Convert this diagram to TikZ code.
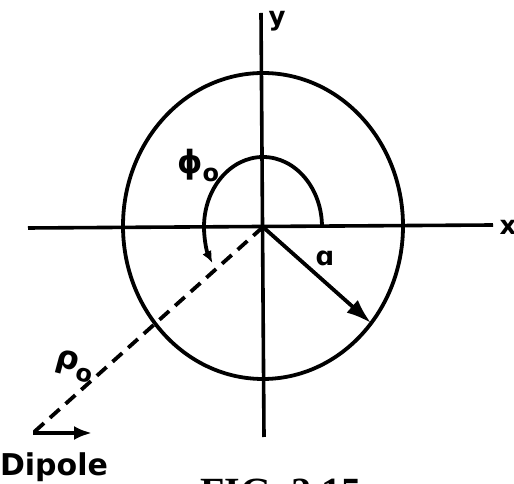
\documentclass[tikz,border=0pt]{standalone}
\usepackage{fontspec}
\setmainfont{DejaVu Sans}
\newfontfamily\capfont{Liberation Serif}
\usetikzlibrary{arrows.meta}
\begin{document}
\begin{tikzpicture}[x=1pt,y=1pt,
  line width=3.8pt,
  axis/.style={line width=3.6pt},
  lbl/.style={inner sep=0pt,font=\fontsize{26}{28}\selectfont\bfseries},
  greek/.style={inner sep=0pt,font=\fontsize{32}{34}\selectfont\bfseries},
  bigtip/.style={-{Latex[length=25pt,width=17pt]}},
  smalltip/.style={-{Latex[length=12pt,width=10pt]}}]
\useasboundingbox (0,0) rectangle (514,484);
\coordinate (O) at (263,257);
\coordinate (yt) at (261,471);
\coordinate (yb) at (264,47);
\coordinate (xl) at (28,256);
\coordinate (xr) at (493,259);
\coordinate (A) at (371,161);
\coordinate (D) at (33,51);
\coordinate (Dr) at (92,51);
% axes
\draw[axis] (xl) -- (xr);
\draw[axis] (yb) -- (yt);
\node[lbl] (xlab) at (508,257) {x};
\node[lbl] (ylab) at (277,463) {y};
% circle
\draw (263,258) ellipse [x radius=140, y radius=153];
% angle arc
\draw[smalltip] (O) ++(59,0) arc [start angle=0, end angle=211, x radius=59, y radius=70];
\node[greek] (phi) at (198,318) {ϕ\raisebox{-8pt}{\fontsize{24}{26}\selectfont o}};
% radius a
\draw[bigtip] (O) -- (A);
\node[lbl] (alab) at (325,226) {ɑ};
% dipole line
\draw[dashed, dash pattern=on 13pt off 8pt] (O) -- (D);
\node[greek, rotate=-15] (rho) at (75,118) {ρ\raisebox{-8pt}{\fontsize{24}{26}\selectfont o}};
\draw[-{Latex[length=18pt,width=14pt]}] (D) -- (Dr);
\node[lbl, font=\fontsize{30}{32}\selectfont\bfseries] (dip) at (54,17) {Dipole};
% caption
\node[inner sep=0pt, anchor=north, font=\capfont\fontsize{40}{42}\selectfont\bfseries] (cap) at (281,7) {FIG. 2.15};
\end{tikzpicture}
\end{document}
